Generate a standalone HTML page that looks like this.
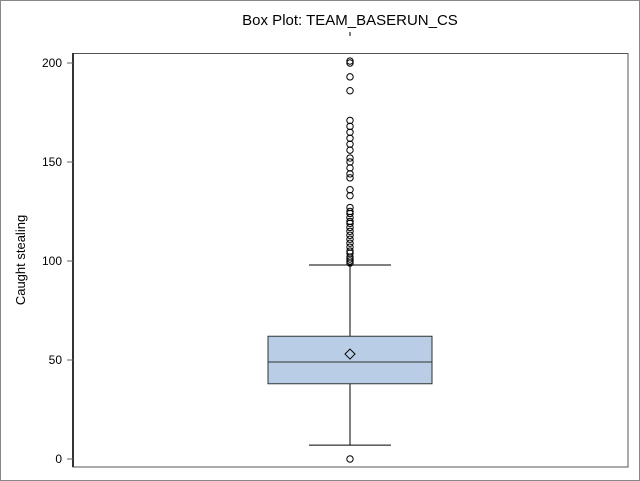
<!DOCTYPE html>
<html><head><meta charset="utf-8"><style>
body{margin:0;background:#fff;}
svg{display:block;font-family:"Liberation Sans",Arial,sans-serif;}
</style></head><body>
<svg width="640" height="481">
<rect x="0.5" y="0.5" width="639" height="480" fill="#fff" stroke="#888"/>
<text x="350" y="25" font-size="15" text-anchor="middle">Box Plot: TEAM_BASERUN_CS</text>
<line x1="350" y1="32" x2="350" y2="36" stroke="#000"/>
<rect x="73" y="53.5" width="555" height="413.5" fill="none" stroke="#555"/>
<line x1="73" y1="53" x2="73" y2="467" stroke="#333" stroke-width="2"/>
<text transform="translate(25,260) rotate(-90)" font-size="13" text-anchor="middle">Caught stealing</text>
<g id="yaxis"></g>
<g id="marks"></g>
</svg>
<script>
const ticks=[0,50,100,150,200];
const boxStats=[7,38,49,62,98];
const meanValue=[53];
const outliers=[0,99,100,101,102,104,105,107,109,111,113,115,117,119,120,122,124,125,127,133,136,142,144,147,150,152,156,159,162,165,168,171,186,193,200,201];
const NS="http://www.w3.org/2000/svg";
function y(v){return 459-v*1.98;}
const cx=350,bx0=268,bx1=432;
const ya=document.getElementById('yaxis'),mk=document.getElementById('marks');
function el(t,a,p){const e=document.createElementNS(NS,t);for(const k in a)e.setAttribute(k,a[k]);p.appendChild(e);return e;}
ticks.forEach(t=>{
 const l=el('line',{x1:67,x2:73,y1:y(t),y2:y(t),stroke:'#666'},ya);
 
 
 const tx=el('text',{x:62,y:y(t)+4,'font-size':12,'text-anchor':'end'},ya);tx.textContent=t;
 
 
});
const [wl,q1,med,q3,wh]=boxStats;
let e;
e=el('line',{x1:cx,x2:cx,y1:y(wl),y2:y(q1),stroke:'#000'},mk);


e=el('line',{x1:cx,x2:cx,y1:y(q3),y2:y(wh),stroke:'#000'},mk);


e=el('line',{x1:309,x2:391,y1:y(wl),y2:y(wl),stroke:'#000'},mk);


e=el('line',{x1:309,x2:391,y1:y(wh),y2:y(wh),stroke:'#000'},mk);


e=el('rect',{x:bx0,y:y(q3),width:bx1-bx0,height:y(q1)-y(q3),fill:'#b9cde6',stroke:'#333'},mk);


e=el('line',{x1:bx0,x2:bx1,y1:y(med),y2:y(med),stroke:'#333'},mk);


const my=y(meanValue[0]);
e=el('polygon',{points:`${cx},${my-5} ${cx+5},${my} ${cx},${my+5} ${cx-5},${my}`,fill:'none',stroke:'#000'},mk);


outliers.forEach(v=>{
 const c=el('circle',{cx:cx,cy:y(v),r:3.2,fill:'none',stroke:'#000'},mk);
 
 
});
</script>
</body></html>
